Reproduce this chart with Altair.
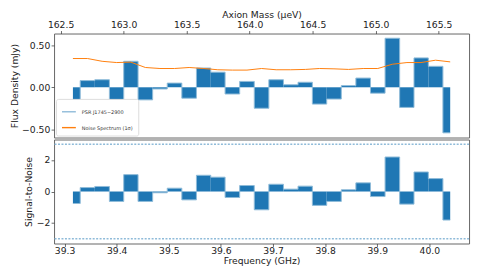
import altair as alt
import pandas as pd

freq_ghz = [39.316, 39.344, 39.372, 39.400, 39.427, 39.455, 39.483, 39.511, 39.539,
            39.567, 39.594, 39.622, 39.650, 39.678, 39.706, 39.734, 39.762, 39.789,
            39.817, 39.845, 39.873, 39.901, 39.929, 39.957, 39.984, 40.012, 40.040]
flux_mjy = [-0.256, 0.08, 0.09, -0.19, 0.31, -0.15, -0.02, 0.05, -0.13, 0.23, 0.18,
            -0.08, 0.07, -0.25, 0.09, 0.03, 0.06, -0.20, -0.14, 0.02, 0.11, -0.07,
            0.585, -0.24, 0.35, 0.25, -0.543]
noise_mjy = [0.343, 0.343, 0.31, 0.295, 0.30, 0.236, 0.224, 0.224, 0.236, 0.224, 0.209,
             0.205, 0.205, 0.224, 0.209, 0.209, 0.213, 0.224, 0.22, 0.213, 0.224, 0.224,
             0.275, 0.295, 0.295, 0.323, 0.303]
snr = [-0.76, 0.25, 0.32, -0.63, 1.07, -0.63, -0.08, 0.21, -0.53, 1.03, 0.91, -0.38,
       0.38, -1.16, 0.46, 0.15, 0.34, -0.88, -0.63, 0.11, 0.55, -0.32, 2.19, -0.80,
       1.24, 0.82, -1.81]
thresholds = [3, -3]

freq_ticks = [39.3, 39.4, 39.5, 39.6, 39.7, 39.8, 39.9, 40.0]
mass_ticks = [162.5, 163.0, 163.5, 164.0, 164.5, 165.0, 165.5]
flux_ticks = [-0.5, -0.25, 0.0, 0.25, 0.5]
snr_ticks = [-2, 0, 2]

H_UEV_PER_GHZ = 4.135667696
PSR = "PSR J1745\u22122900"
NOISE = "Noise Spectrum (1\u03c3)"

n = len(freq_ghz)
lefts = [freq_ghz[0]] + [(freq_ghz[i - 1] + freq_ghz[i]) / 2 for i in range(1, n)]
rights = [(freq_ghz[i] + freq_ghz[i + 1]) / 2 for i in range(n - 1)] + [freq_ghz[-1]]
df = pd.DataFrame({
    "freq": freq_ghz, "left": lefts, "right": rights,
    "flux": flux_mjy, "noise": noise_mjy, "snr": snr,
    "mass": [f * H_UEV_PER_GHZ for f in freq_ghz],
})
df_psr = df.assign(series=PSR)
df_noise = df.assign(series=NOISE)
thr = pd.DataFrame({"v": thresholds})

FDOM = [39.2798, 40.0762]
MDOM = [FDOM[0] * H_UEV_PER_GHZ, FDOM[1] * H_UEV_PER_GHZ]
xs = alt.Scale(domain=FDOM, nice=False, zero=False)
ys_top = alt.Scale(domain=[-0.599, 0.641], nice=False, zero=False)
ys_bot = alt.Scale(domain=[-3.3, 3.3], nice=False, zero=False)

BLUE = "#1f77b4"
LIGHT = "#8fbbd9"
ORANGE = "#ff7f0e"

color_scale = alt.Scale(domain=[PSR, NOISE], range=[LIGHT, ORANGE])
legend = alt.Legend(title=None, orient="bottom-left", symbolType="stroke",
                    symbolSize=196, symbolStrokeWidth=1.4, labelFontSize=5,
                    labelFont="DejaVu Sans", labelColor="#333", padding=5,
                    rowPadding=5, labelOffset=5, offset=2, fillColor="white",
                    strokeColor="#dddddd", cornerRadius=2)

W = 419
HT = 105

base = alt.Chart(df)

top_bars = base.mark_rect(color=BLUE).encode(
    x=alt.X("left:Q", scale=xs, axis=None),
    x2="right:Q",
    y=alt.Y("flux:Q", scale=ys_top,
            axis=alt.Axis(title="Flux Density (mJy)", values=flux_ticks, format=".2f",
                          titlePadding=2, labelPadding=1.3)),
    y2=alt.datum(0),
)
top_step = alt.Chart(df_psr).mark_line(interpolate="step", strokeWidth=1).encode(
    x=alt.X("freq:Q", scale=xs, axis=None),
    y=alt.Y("flux:Q", scale=ys_top),
    color=alt.Color("series:N", scale=color_scale, legend=legend),
)
top_noise = alt.Chart(df_noise).mark_line(strokeWidth=1).encode(
    x=alt.X("freq:Q", scale=xs, axis=None),
    y=alt.Y("noise:Q", scale=ys_top),
    color=alt.Color("series:N", scale=color_scale, legend=legend),
)
top_axis = base.mark_point(opacity=0, size=4).encode(
    x=alt.X("mass:Q", scale=alt.Scale(domain=MDOM, nice=False, zero=False),
            axis=alt.Axis(orient="top", title="Axion Mass (\u03bceV)", values=mass_ticks,
                          format=".1f", titlePadding=1, labelPadding=1.5)),
    y=alt.Y("flux:Q", scale=ys_top),
)
top = alt.layer(top_bars, top_step, top_noise, top_axis).resolve_scale(
    x="independent").properties(width=W, height=HT)

bot_bars = base.mark_rect(color=BLUE).encode(
    x=alt.X("left:Q", scale=xs,
            axis=alt.Axis(title="Frequency (GHz)", values=freq_ticks, format=".1f",
                          titlePadding=1, labelPadding=0)),
    x2="right:Q",
    y=alt.Y("snr:Q", scale=ys_bot,
            axis=alt.Axis(title="Signal-to-Noise", values=snr_ticks, format="d",
                          titlePadding=3, labelPadding=1.3)),
    y2=alt.datum(0),
)
bot_step = base.mark_line(interpolate="step", strokeWidth=1, color=LIGHT).encode(
    x=alt.X("freq:Q", scale=xs),
    y=alt.Y("snr:Q", scale=ys_bot),
)
bot_thr = alt.Chart(thr).mark_rule(color=LIGHT, strokeWidth=1.5, strokeDash=[2, 1.5]).encode(
    y=alt.Y("v:Q", scale=ys_bot),
)
bottom = alt.layer(bot_bars, bot_step, bot_thr).properties(width=W, height=HT)

chart = alt.vconcat(top, bottom, spacing=0).resolve_legend(
    color="independent"
).resolve_scale(
    color="independent"
).properties(
    padding={"left": 1.5, "top": 0.5, "right": 5, "bottom": 5}
).configure_view(
    stroke="#666666", strokeWidth=1
).configure_axis(
    grid=False, domain=False, tickColor="#444444", tickSize=3, tickWidth=0.8,
    labelFont="DejaVu Sans", labelFontSize=9.3, labelColor="#222222",
    titleFont="DejaVu Sans", titleFontSize=9.3, titleFontWeight="normal",
    titleColor="#222222",
)

chart.save("out.html", embed_options={"renderer": "svg", "actions": False})
